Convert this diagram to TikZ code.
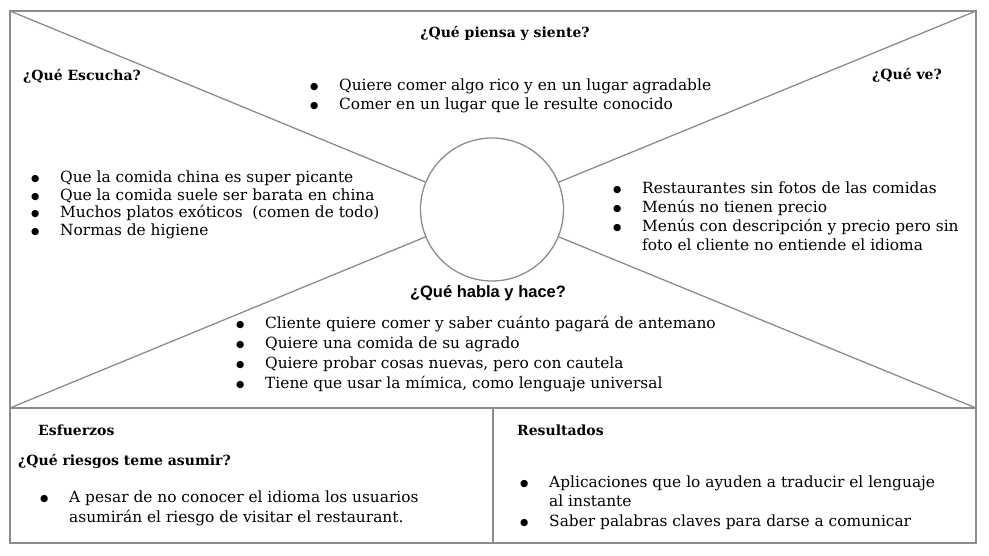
\documentclass[tikz,border=0pt]{standalone}
\usepackage{fontspec}
\setmainfont{DejaVu Serif}
\newfontfamily\headsans{Liberation Sans}
\newfontfamily\dotfont{DejaVu Sans}
\usetikzlibrary{positioning}

\newcommand{\itm}[1]{\makebox[29pt][l]{\raisebox{0.8pt}{\dotfont\fontsize{9.5}{10}\selectfont ●}}#1}
\newcommand{\cont}[1]{\hspace*{29pt}#1}

\begin{document}
\begin{tikzpicture}[
          x=1pt, y=-1pt,
          frame/.style={draw=black!45, line width=1.3pt},
          hub/.style={circle, draw=black!45, line width=1.3pt, minimum size=143pt, inner sep=0pt},
          head/.style={font=\fontsize{14}{17}\selectfont\bfseries, inner sep=0pt},
          items/.style={font=\fontsize{15.4}{19}\selectfont, align=left, anchor=north west, inner sep=0pt}
        ]
          \useasboundingbox (0,0) rectangle (989,556);

          % Frame corners
          \coordinate (tl) at (10,11);
          \coordinate (tr) at (976,11);
          \coordinate (ml) at (10,408);
          \coordinate (mr) at (976,408);
          \coordinate (bl) at (10,543);
          \coordinate (br) at (976,543);
          \coordinate (mt) at (493,408);
          \coordinate (mb) at (493,543);

          % Centre circle
          \node[hub] (hub) at (492,209.5) {};

          % Frame and diagonals
          \draw[frame] (tl) -- (tr) -- (mr) -- (ml) -- cycle;
          \draw[frame] (ml) -- (bl) -- (br) -- (mr);
          \draw[frame] (mt) -- (mb);
          \draw[frame] (tl) -- (hub);
          \draw[frame] (tr) -- (hub);
          \draw[frame] (ml) -- (hub);
          \draw[frame] (mr) -- (hub);

          % Headings
          \node[head] (piensa) at (505,33) {¿Qué piensa y siente?};
          \node[head, anchor=west] (escucha) at (23,76) {¿Qué Escucha?};
          \node[head] (ve) at (907,75) {¿Qué ve?};
          \node[head, font=\fontsize{16.5}{19}\headsans\bfseries] (habla) at (488,293) {¿Qué habla y hace?};
          \node[head, anchor=west] (esfuerzos) at (38,430) {Esfuerzos};
          \node[head, anchor=west] (riesgos) at (18,461) {¿Qué riesgos teme asumir?};
          \node[head, anchor=west] (resultados) at (517,430) {Resultados};

          % Lists
          \node[items] (piensalist) at (310,78.5) {\itm{Quiere comer algo rico y en un lugar agradable}\\
            \itm{Comer en un lugar que le resulte conocido}};
          \node[items, font=\fontsize{15.4}{17.7}\selectfont] (escuchalist) at (31,170.5) {\itm{Que la comida china es super picante}\\
            \itm{Que la comida suele ser barata en china}\\
            \itm{Muchos platos exóticos\ \ (comen de todo)}\\
            \itm{Normas de higiene}};
          \node[items] (velist) at (613,181.5) {\itm{Restaurantes sin fotos de las comidas}\\
            \itm{Menús no tienen precio}\\
            \itm{Menús con descripción y precio pero sin}\\
            \cont{foto el cliente no entiende el idioma}};
          \node[items, font=\fontsize{15.4}{20}\selectfont] (hablalist) at (236,316) {\itm{Cliente quiere comer y saber cuánto pagará de antemano}\\
            \itm{Quiere una comida de su agrado}\\
            \itm{Quiere probar cosas nuevas, pero con cautela}\\
            \itm{Tiene que usar la mímica, como lenguaje universal}};
          \node[items, font=\fontsize{15.4}{20}\selectfont] (riesgoslist) at (40,490.5) {\itm{A pesar de no conocer el idioma los usuarios}\\
            \cont{asumirán el riesgo de visitar el restaurant.}};
          \node[items, font=\fontsize{15.4}{19.5}\selectfont] (resultadoslist) at (520,475.5) {\itm{Aplicaciones que lo ayuden a traducir el lenguaje}\\
            \cont{al instante}\\
            \itm{Saber palabras claves para darse a comunicar}};
        \end{tikzpicture}
\end{document}
